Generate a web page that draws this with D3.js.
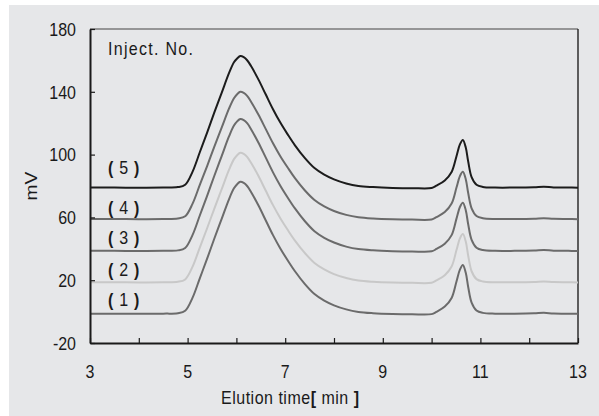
<!DOCTYPE html>
<html>
<head>
<meta charset="utf-8">
<script src="https://cdn.jsdelivr.net/npm/d3@7"></script>
<style>
  html, body { margin: 0; padding: 0; background: #ffffff; }
  svg { display: block; }
  text { font-family: "Liberation Sans", Arial, sans-serif; fill: #1a1a1a; }
</style>
</head>
<body>
<svg id="chart" width="599" height="416"></svg>
<script>
// Elution times (min) shared by all chromatogram traces
const times = [3.0, 3.5, 4.0, 4.5, 4.8, 4.95, 5.1, 5.25, 5.4, 5.55,
  5.7, 5.85, 5.95, 6.02, 6.08, 6.15, 6.22, 6.3, 6.45, 6.6, 6.75, 6.9, 7.05, 7.2, 7.4, 7.6, 7.8, 8.0, 8.25, 8.5,
  8.8, 9.2, 9.6, 10.0, 10.1, 10.27, 10.41, 10.51, 10.58, 10.64, 10.7, 10.75, 10.82, 10.92, 11.05, 11.3, 11.7, 12.1, 12.3, 12.5, 12.8, 13.0];

// Detector signal (mV) for each injection, offset traces
const inject1 = [-1.3, -1.3, -1.4, -1.3, -1.0, 0.5, 8.7, 21.2, 33.7, 46.7,
  59.2, 71.7, 78.5, 81.3, 82.7, 82.0, 80.0, 76.2, 67.7, 58.2, 48.7, 40.2, 32.7, 25.7, 17.7, 11.2, 7.0, 4.0, 1.4, -0.2,
  -1.0, -1.5, -1.7, -1.6, -0.1, 3.2, 8.7, 19.2, 26.7, 29.7, 24.7, 15.7, 5.7, 0.7, -0.8, -1.3, -1.3, -1.1, -0.8, -1.2, -1.3, -1.3];
const inject2 = [18.7, 18.7, 18.6, 18.7, 19.0, 20.5, 28.5, 40.8, 53.1, 65.8,
  78.1, 90.4, 97.1, 99.8, 101.2, 100.5, 98.5, 94.8, 86.5, 77.1, 67.8, 59.5, 52.1, 45.2, 37.4, 31.0, 26.9, 23.9, 21.4, 19.8,
  19.0, 18.5, 18.3, 18.4, 19.9, 23.2, 28.7, 39.2, 46.6, 49.4, 44.6, 35.6, 25.7, 20.7, 19.2, 18.7, 18.7, 18.9, 19.2, 18.8, 18.7, 18.6];
const inject3 = [38.7, 38.7, 38.6, 38.7, 39.0, 40.5, 48.7, 61.2, 73.7, 86.7,
  99.2, 111.7, 118.5, 121.3, 122.7, 122.0, 120.0, 116.2, 107.7, 98.2, 88.7, 80.2, 72.7, 65.7, 57.7, 51.2, 47.0, 44.0, 41.4, 39.8,
  39.0, 38.5, 38.3, 38.4, 39.9, 43.2, 48.7, 59.2, 66.6, 69.4, 64.6, 55.6, 45.7, 40.7, 39.2, 38.7, 38.7, 38.9, 39.2, 38.8, 38.7, 38.6];
const inject4 = [59.0, 59.0, 58.9, 59.0, 59.3, 60.7, 68.6, 80.7, 92.7, 105.3,
  117.3, 129.4, 135.9, 138.6, 140.0, 139.3, 137.4, 133.7, 125.5, 116.4, 107.2, 99.0, 91.8, 85.0, 77.3, 71.1, 67.0, 64.1, 61.6, 60.1,
  59.3, 58.8, 58.6, 58.7, 60.2, 63.4, 68.8, 79.0, 86.3, 89.1, 84.3, 75.5, 65.8, 60.9, 59.5, 59.0, 59.0, 59.2, 59.5, 59.1, 59.0, 58.9];
const inject5 = [79.0, 79.0, 78.9, 79.0, 79.3, 80.8, 89.0, 101.5, 114.0, 127.0,
  139.5, 152.0, 158.8, 161.4, 162.8, 162.1, 160.1, 156.4, 147.9, 138.4, 128.9, 120.4, 112.9, 105.9, 97.9, 91.4, 87.2, 84.2, 81.6, 80.0,
  79.3, 78.8, 78.6, 78.7, 80.2, 83.5, 88.9, 99.0, 106.5, 109.3, 104.5, 95.6, 85.7, 80.8, 79.4, 79.0, 79.0, 79.2, 79.5, 79.1, 79.0, 78.9];

const traceNames = ["1", "2", "3", "4", "5"];
const traceValues = [inject1, inject2, inject3, inject4, inject5];
const traceColors = ["#6b6b6b", "#c8c8c8", "#6b6b6b", "#6b6b6b", "#1c1c1c"];
// label anchor (mV) for each injection number
const labelLevels = [8, 27, 47, 66, 92];
const labelTime = 3.69;

const yTicks = [-20, 20, 60, 100, 140, 180];
const xTicks = [3, 4, 5, 6, 7, 8, 9, 10, 11, 12, 13];
const xLabelTicks = [3, 5, 7, 9, 11, 13];

const svg = d3.select("#chart");
const W = 599, H = 416;
const m = { left: 90, right: 21, top: 29, bottom: 73 };
const FS = 16, STRETCH = 1.2;

svg.append("rect").attr("x", 9).attr("y", 5).attr("width", W - 9).attr("height", H - 5).attr("fill", "#e6e7e9");

const x = d3.scaleLinear().domain([3, 13]).range([m.left, W - m.right]);
const y = d3.scaleLinear().domain([-20, 180]).range([H - m.bottom, m.top]);

// text placed at its baseline, drawn slightly tall
function label(px, py, anchor, extra) {
  const t = svg.append("text")
    .attr("transform", `translate(${px},${py}) scale(1,${STRETCH})`)
    .attr("text-anchor", anchor)
    .attr("font-size", FS);
  if (extra) extra(t);
  return t;
}

// frame: top and right edges
svg.append("line").attr("x1", x(3)).attr("x2", x(13)).attr("y1", y(180)).attr("y2", y(180))
  .attr("stroke", "#444").attr("stroke-width", 1.2);
svg.append("line").attr("x1", x(13)).attr("x2", x(13)).attr("y1", y(180)).attr("y2", y(-20))
  .attr("stroke", "#222").attr("stroke-width", 1.4);

// traces
const line = d3.line().x(d => x(d[0])).y(d => y(d[1])).curve(d3.curveCatmullRom.alpha(0.5));
traceValues.forEach((vals, i) => {
  svg.append("path")
    .datum(times.map((t, j) => [t, vals[j]]))
    .attr("d", line)
    .attr("fill", "none")
    .attr("stroke", traceColors[i])
    .attr("stroke-width", 2)
    .attr("stroke-linejoin", "round");
});

// axes (tick marks point inward)
const yAxis = svg.append("g").attr("transform", `translate(${m.left},0)`)
  .call(d3.axisLeft(y).tickValues(yTicks).tickSize(-5).tickSizeOuter(0).tickFormat(""));
const xAxis = svg.append("g").attr("transform", `translate(0,${y(-20)})`)
  .call(d3.axisBottom(x).tickValues(xTicks).tickSize(-5).tickSizeOuter(0).tickFormat(""));
[yAxis, xAxis].forEach(g => {
  g.select(".domain").attr("stroke", "#1a1a1a").attr("stroke-width", 2);
  g.selectAll(".tick line").attr("stroke", "#1a1a1a").attr("stroke-width", 1.2);
});

// tick labels
yTicks.forEach(v => label(m.left - 14, y(v) + 6.7, "end").text(v < 0 ? "-" + Math.abs(v) : v));
xLabelTicks.forEach(v => label(x(v), y(-20) + 34.5, "middle").text(v));

// axis titles
svg.append("text").attr("transform", `translate(37,${(y(180) + y(-20)) / 2}) rotate(-90) scale(${STRETCH},1)`)
  .attr("text-anchor", "middle").attr("font-size", FS).text("mV");

label(221, 404, "start", t => {
  t.attr("textLength", 138).attr("lengthAdjust", "spacing");
  t.append("tspan").text("Elution  time");
  t.append("tspan").attr("font-weight", "bold").text("[");
  t.append("tspan").text(" min ");
  t.append("tspan").attr("font-weight", "bold").text("]");
});

// legend heading and injection labels
label(108, 55, "start").attr("textLength", 85).attr("lengthAdjust", "spacing").text("Inject.  No.");

traceNames.forEach((n, i) => {
  label(x(labelTime), y(labelLevels[i]) + 6.5, "middle", t => {
    t.append("tspan").attr("font-weight", "bold").text("(");
    t.append("tspan").attr("dx", 6).text(n);
    t.append("tspan").attr("dx", 6).attr("font-weight", "bold").text(")");
  });
});
</script>
</body>
</html>
